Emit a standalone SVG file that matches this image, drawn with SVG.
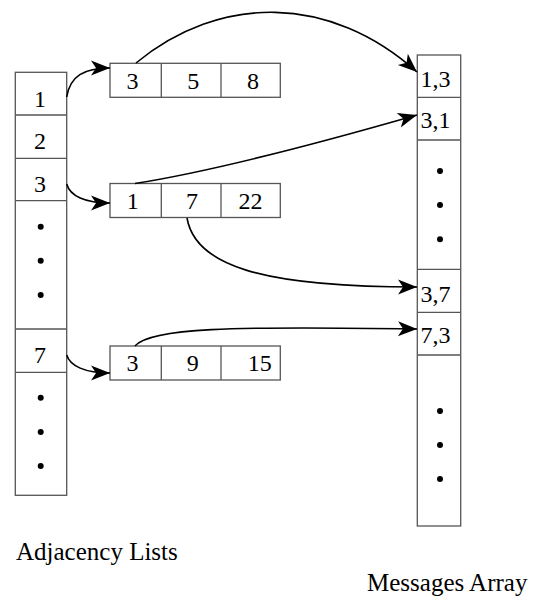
<svg xmlns="http://www.w3.org/2000/svg" width="533" height="599" viewBox="0 0 533 599">
<style>
.box{fill:#fff;stroke:#555;stroke-width:1.3}
.ln{stroke:#555;stroke-width:1.3;fill:none}
text{font-family:'Liberation Serif','Times New Roman',serif;fill:#000}
.t{font-size:24px}
.tm{text-anchor:middle}
.lbl{font-size:25px}
.dot{fill:#000}
.arr{fill:none;stroke:#000;stroke-width:1.6;marker-end:url(#ah)}
</style>
<defs>
<marker id="ah" markerUnits="userSpaceOnUse" markerWidth="22" markerHeight="18" viewBox="-21 -9 22 18" refX="0" refY="0" orient="auto">
<path d="M0,0 L-19,-7.5 L-14,0 L-19,7.5 Z" fill="#000"/>
</marker>
</defs>
<rect width="533" height="599" fill="#fff"/>

<g id="adjacency-array">
<rect class="box" x="15.3" y="72.3" width="51.4" height="423"/>
<line class="ln" x1="15.3" y1="115" x2="66.7" y2="115"/>
<line class="ln" x1="15.3" y1="158.3" x2="66.7" y2="158.3"/>
<line class="ln" x1="15.3" y1="200.7" x2="66.7" y2="200.7"/>
<line class="ln" x1="15.3" y1="329" x2="66.7" y2="329"/>
<line class="ln" x1="15.3" y1="372.3" x2="66.7" y2="372.3"/>
<text class="t tm" x="40" y="106.5">1</text>
<text class="t tm" x="40" y="149">2</text>
<text class="t tm" x="40" y="191.5">3</text>
<text class="t tm" x="40" y="362.5">7</text>
<circle class="dot" cx="40.7" cy="226.7" r="3"/>
<circle class="dot" cx="40.7" cy="260.7" r="3"/>
<circle class="dot" cx="40.7" cy="295" r="3"/>
<circle class="dot" cx="40.7" cy="397.7" r="3"/>
<circle class="dot" cx="40.7" cy="432" r="3"/>
<circle class="dot" cx="40.7" cy="466" r="3"/>
</g>

<g id="list-1">
<rect class="box" x="110" y="63.3" width="170.3" height="34"/>
<line class="ln" x1="161.3" y1="63.3" x2="161.3" y2="97.3"/>
<line class="ln" x1="221" y1="63.3" x2="221" y2="97.3"/>
<text class="t tm" x="132.5" y="89.3">3</text>
<text class="t tm" x="193.3" y="89.3">5</text>
<text class="t tm" x="253" y="89.3">8</text>
</g>

<g id="list-3">
<rect class="box" x="110" y="183.5" width="170.3" height="34"/>
<line class="ln" x1="161.3" y1="183.5" x2="161.3" y2="217.5"/>
<line class="ln" x1="221" y1="183.5" x2="221" y2="217.5"/>
<text class="t tm" x="132.8" y="209">1</text>
<text class="t tm" x="192" y="209">7</text>
<text class="t tm" x="250.5" y="209">22</text>
</g>

<g id="list-7">
<rect class="box" x="110" y="346" width="170.3" height="34"/>
<line class="ln" x1="161.3" y1="346" x2="161.3" y2="380"/>
<line class="ln" x1="221" y1="346" x2="221" y2="380"/>
<text class="t tm" x="132.5" y="371.3">3</text>
<text class="t tm" x="192.7" y="371.3">9</text>
<text class="t tm" x="259.7" y="371.3">15</text>
</g>

<g id="messages-array">
<rect class="box" x="417.3" y="55" width="43.4" height="471"/>
<line class="ln" x1="417.3" y1="97.3" x2="460.7" y2="97.3"/>
<line class="ln" x1="417.3" y1="140" x2="460.7" y2="140"/>
<line class="ln" x1="417.3" y1="269.3" x2="460.7" y2="269.3"/>
<line class="ln" x1="417.3" y1="312.3" x2="460.7" y2="312.3"/>
<line class="ln" x1="417.3" y1="355" x2="460.7" y2="355"/>
<text class="t" x="420.5" y="86.7">1,3</text>
<text class="t" x="420.5" y="128.3">3,1</text>
<text class="t" x="420.5" y="301.5">3,7</text>
<text class="t" x="420.5" y="343.3">7,3</text>
<circle class="dot" cx="440" cy="171" r="3"/>
<circle class="dot" cx="440" cy="205" r="3"/>
<circle class="dot" cx="440" cy="239.3" r="3"/>
<circle class="dot" cx="440" cy="411" r="3"/>
<circle class="dot" cx="440" cy="445" r="3"/>
<circle class="dot" cx="440" cy="479" r="3"/>
</g>

<g id="connectors">
<path class="arr" d="M66.7,97 C70,76 84,68 110,68"/>
<path class="arr" d="M66.7,184 C70,196 85,203 110,203"/>
<path class="arr" d="M66.7,355 C70,366 85,373 110,373"/>
<path class="arr" d="M136,63 C220,-6 330,-6 417,72"/>
<path class="arr" d="M135,183.5 C220,170 330,140 417,115"/>
<path class="arr" d="M187,218 C195,265 260,287 417,287"/>
<path class="arr" d="M135,346 C150,328 230,326 417,329"/>
</g>

<g id="labels">
<text class="lbl" x="16" y="560">Adjacency Lists</text>
<text class="lbl" x="367" y="591">Messages Array</text>
</g>
</svg>
